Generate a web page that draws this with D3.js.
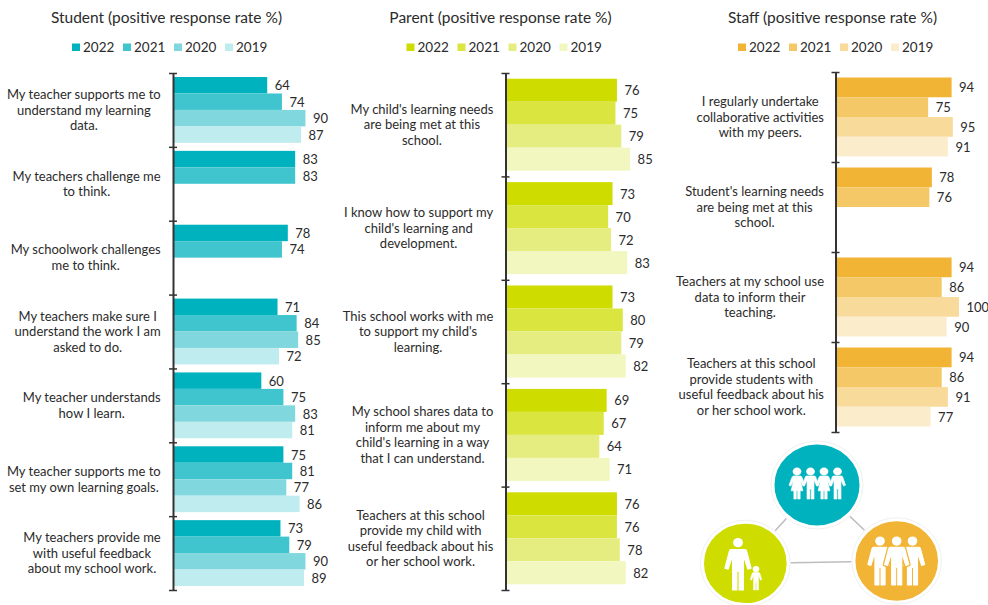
<!DOCTYPE html>
<html>
<head>
<meta charset="utf-8">
<script src="https://cdn.jsdelivr.net/npm/d3@7"></script>
<style>
  html, body { margin: 0; padding: 0; background: #fff; }
  svg { display: block; }
  text { font-family: Lato, "Open Sans", sans-serif; fill: #2b2b2b; }
</style>
</head>
<body>
<svg id="chart" width="988" height="605"></svg>
<script>
const years = ["2022", "2021", "2020", "2019"];

const studentQuestions = [
  ["My teacher supports me to", "understand my learning", "data."],
  ["My teachers challenge me", "to think."],
  ["My schoolwork challenges", "me to think."],
  ["My teachers make sure I", "understand the work I am", "asked to do."],
  ["My teacher understands", "how I learn."],
  ["My teacher supports me to", "set my own learning goals."],
  ["My teachers provide me", "with useful feedback", "about my school work."]
];
const student2022 = [64, 83, 78, 71, 60, 75, 73];
const student2021 = [74, 83, 74, 84, 75, 81, 79];
const student2020 = [90, null, null, 85, 83, 77, 90];
const student2019 = [87, null, null, 72, 81, 86, 89];
const studentColors = ["#00b2be", "#40c5ce", "#80d8de", "#bfecee"];

const parentQuestions = [
  ["My child's learning needs", "are being met at this", "school."],
  ["I know how to support my", "child's learning and", "development."],
  ["This school works with me", "to support my child's", "learning."],
  ["My school shares data to", "inform me about my", "child's learning in a way", "that I can understand."],
  ["Teachers at this school", "provide my child with", "useful feedback about his", "or her school work."]
];
const parent2022 = [76, 73, 73, 69, 76];
const parent2021 = [75, 70, 80, 67, 76];
const parent2020 = [79, 72, 79, 64, 78];
const parent2019 = [85, 83, 82, 71, 82];
const parentColors = ["#cedc00", "#dae540", "#e6ed80", "#f2f6bf"];

const staffQuestions = [
  ["I regularly undertake", "collaborative activities", "with my peers."],
  ["Student's learning needs", "are being met at this", "school."],
  ["Teachers at my school use", "data to inform their", "teaching."],
  ["Teachers at this school", "provide students with", "useful feedback about his", "or her school work."]
];
const staff2022 = [94, 78, 94, 94];
const staff2021 = [75, 76, 86, 86];
const staff2020 = [95, null, 100, 91];
const staff2019 = [91, null, 90, 77];
const staffColors = ["#f1b434", "#f4c767", "#f8da9a", "#fbeccc"];

const svg = d3.select("#chart");

// One titled panel: legend, question labels, grouped horizontal bars, value labels.
function drawPanel(cfg) {
  const g = svg.append("g");

  g.append("text")
    .attr("x", cfg.titleX).attr("y", 22.5)
    .attr("text-anchor", "middle")
    .style("font-size", "15.5px")
    .text(cfg.title);

  const legend = g.append("g").selectAll("g").data(years).join("g")
    .attr("transform", (d, i) => `translate(${cfg.legendX + i * cfg.legendStep},0)`);
  legend.append("rect")
    .attr("x", 0).attr("y", 43.5).attr("width", 8).attr("height", 7.5)
    .attr("fill", (d, i) => cfg.colors[i]);
  legend.append("text")
    .attr("x", 11).attr("y", 52)
    .style("font-size", "13.5px")
    .text(d => d);

  const indices = d3.range(cfg.questions.length);
  const x = d3.scaleLinear().domain([0, 100]).range([cfg.axisX, cfg.axisX + cfg.pxPerHundred]);
  const groupY = d3.scaleBand().domain(indices).range([cfg.top, cfg.bottom]);
  const barY = d3.scaleBand().domain(years)
    .range([cfg.pad, groupY.bandwidth() - cfg.pad]);
  const tickY = d3.scaleLinear().domain([0, indices.length]).range([cfg.top, cfg.bottom]);

  const rows = g.append("g").selectAll("g").data(indices).join("g")
    .attr("transform", i => `translate(0,${groupY(i)})`);

  const cells = rows.selectAll("g")
    .data(i => years.map((year, k) => ({ year, k, value: cfg.series[k][i] })).filter(d => d.value !== null))
    .join("g");

  cells.append("rect")
    .attr("x", cfg.axisX)
    .attr("y", d => barY(d.year))
    .attr("width", d => x(d.value) - cfg.axisX)
    .attr("height", barY.bandwidth())
    .attr("fill", d => cfg.colors[d.k]);

  cells.append("text")
    .attr("x", d => x(d.value) + 7.5)
    .attr("y", d => barY(d.year) + barY.bandwidth() / 2 + 5)
    .style("font-size", "13px")
    .text(d => d.value);

  // Question text: lines centred on each other, block flush against the axis side.
  rows.each(function (i) {
    const lines = cfg.questions[i];
    const label = d3.select(this).append("text")
      .attr("text-anchor", "middle")
      .style("font-size", "13px");
    const cy = groupY.bandwidth() / 2;
    const spans = label.selectAll("tspan").data(lines).join("tspan")
      .attr("y", (d, n) => cy + (n - (lines.length - 1) / 2) * 15.5 + 4.6)
      .text(d => d);
    const widest = d3.max(spans.nodes(), n => n.getComputedTextLength());
    spans.attr("x", cfg.labelRight - widest / 2);
  });

  const axis = g.append("g")
    .attr("transform", `translate(${cfg.axisX},0)`)
    .call(d3.axisLeft(tickY).tickValues(d3.range(indices.length + 1)).tickFormat("").tickSizeOuter(0));
  axis.select(".domain").attr("stroke", "#333").attr("stroke-width", 2);
  axis.selectAll(".tick line").attr("x1", 4).attr("x2", -4).attr("stroke", "#333").attr("stroke-width", 1.5);
}

drawPanel({
  title: "Student (positive response rate %)", titleX: 166.5,
  legendX: 72, legendStep: 51, colors: studentColors,
  questions: studentQuestions,
  series: [student2022, student2021, student2020, student2019],
  axisX: 173, pxPerHundred: 147.2, top: 73, bottom: 590, pad: 4, labelRight: 160.7
});
drawPanel({
  title: "Parent (positive response rate %)", titleX: 500.5,
  legendX: 406.5, legendStep: 51, colors: parentColors,
  questions: parentQuestions,
  series: [parent2022, parent2021, parent2020, parent2019],
  axisX: 505.5, pxPerHundred: 146.6, top: 73, bottom: 590, pad: 5.7, labelRight: 493.3
});
drawPanel({
  title: "Staff (positive response rate %)", titleX: 832.5,
  legendX: 738, legendStep: 51, colors: staffColors,
  questions: staffQuestions,
  series: [staff2022, staff2021, staff2020, staff2019],
  axisX: 835.5, pxPerHundred: 123.5, top: 72, bottom: 432, pad: 5.5, labelRight: 824
});

// People glyphs, drawn in a box 100 units tall with the feet on y = 100.
const adultBody = "M-13,22 Q-15,22 -16,26 L-24,58 L-18,60 L-10,34 L-10,100 L-2,100 L-2,64 L2,64 L2,100 L10,100 L10,34 L18,60 L24,58 L16,26 Q15,22 13,22 Z";
const boyBody = "M-11,27 Q-14,27 -15,30 L-23,56 L-18,59 L-10,40 L-10,100 L-2,100 L-2,68 L2,68 L2,100 L10,100 L10,40 L18,59 L23,56 L15,30 Q14,27 11,27 Z";
const girlBody = "M-9,27 Q-12,27 -14,30 L-23,56 L-18,59 L-10,41 L-17,74 L-9,74 L-9,100 L-2,100 L-2,74 L2,74 L2,100 L9,100 L9,74 L17,74 L10,41 L18,59 L23,56 L14,30 Q12,27 9,27 Z";

// An optional outline in the disc colour keeps a front figure apart from the ones behind it.
function person(layer, cx, headTop, feet, body, headR, widthScale, outline) {
  const k = (feet - headTop) / 100;
  const p = layer.append("g")
    .attr("transform", `translate(${cx},${headTop}) scale(${k * widthScale},${k})`)
    .attr("fill", "#fff");
  if (outline) {
    p.append("path").attr("d", body).attr("stroke", outline).attr("stroke-width", 7).attr("stroke-linejoin", "round");
  }
  p.append("circle").attr("cx", 0).attr("cy", headR).attr("r", headR);
  p.append("path").attr("d", body).attr("stroke", "#fff").attr("stroke-width", 2).attr("stroke-linejoin", "round");
}

const hub = svg.append("g");
const nodes = [
  { x: 817, y: 485, rx: 44.5, ry: 42.5, color: "#00b2be" },
  { x: 745.3, y: 563.4, rx: 43.3, ry: 41.7, color: "#cedc00" },
  { x: 896.7, y: 561, rx: 43.3, ry: 41.7, color: "#f1b434" }
];
[[0, 1], [0, 2], [1, 2]].forEach(([a, b]) => {
  hub.append("line")
    .attr("x1", nodes[a].x).attr("y1", nodes[a].y)
    .attr("x2", nodes[b].x).attr("y2", nodes[b].y)
    .attr("stroke", "#bdbdbd").attr("stroke-width", 1.5);
});
hub.selectAll("ellipse").data(nodes).join("ellipse")
  .attr("cx", d => d.x).attr("cy", d => d.y).attr("rx", d => d.rx).attr("ry", d => d.ry)
  .attr("fill", d => d.color)
  .attr("stroke", "#fff").attr("stroke-width", 4);
nodes.forEach(d => {
  hub.append("ellipse")
    .attr("cx", d.x).attr("cy", d.y).attr("rx", d.rx + 1.5).attr("ry", d.ry + 1.5)
    .attr("fill", "none")
    .attr("stroke", "#f0f0f0").attr("stroke-width", 1);
});

person(hub, 797, 467.5, 499, girlBody, 12.5, 1.1);
person(hub, 810.5, 467.5, 499, boyBody, 12.5, 1.1);
person(hub, 824, 467.5, 499, girlBody, 12.5, 1.1);
person(hub, 837.5, 467.5, 499, boyBody, 12.5, 1.1);

person(hub, 738, 538, 590, adultBody, 9, 1.05);
person(hub, 756, 566, 590, boyBody, 13, 1.05);

person(hub, 880, 536.5, 585, adultBody, 9.5, 1.05);
person(hub, 912.5, 536.5, 585, adultBody, 9.5, 1.05);
person(hub, 896.7, 536.5, 585, adultBody, 9.5, 1.05, "#f1b434");
</script>
</body>
</html>
